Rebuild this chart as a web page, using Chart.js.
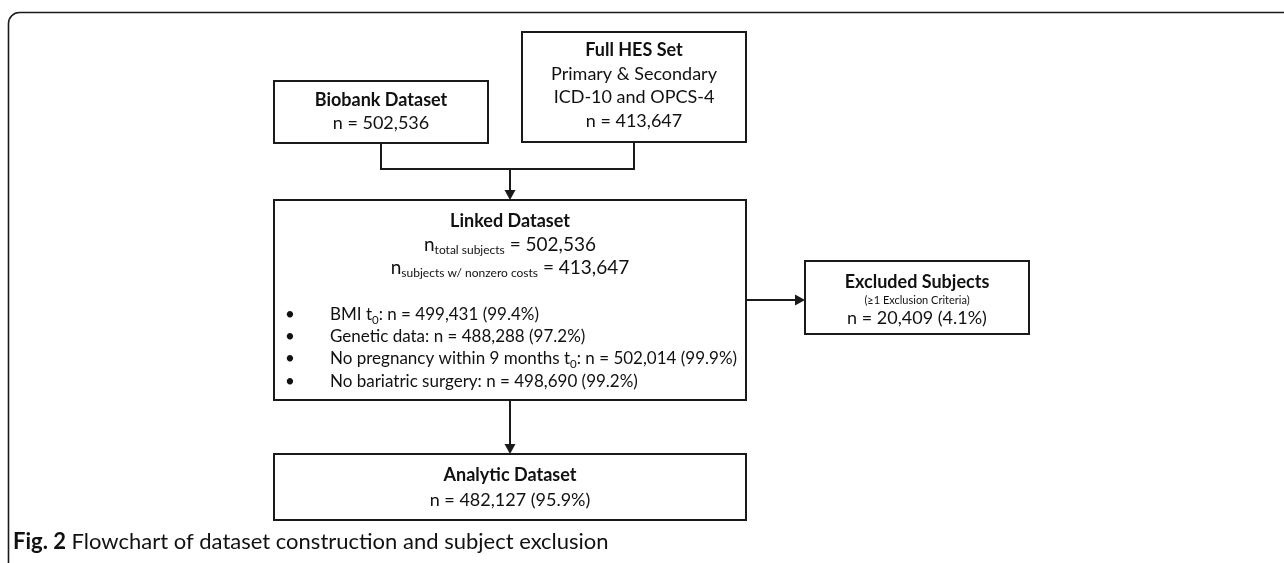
<!DOCTYPE html>
<html>
<head>
<meta charset="utf-8">
<script src="https://cdn.jsdelivr.net/npm/chart.js@4.4.1/dist/chart.umd.min.js"></script>
<style>
    html, body { margin: 0; padding: 0; background: #fff; }
    canvas { display: block; }
</style>
</head>
<body>
<canvas id="flow" width="1284" height="563"></canvas>
<script>
// counts
const nodeTitles = ['Biobank Dataset', 'Full HES Set', 'Linked Dataset', 'Excluded Subjects', 'Analytic Dataset'];
const nodeCounts = [502536, 413647, 502536, 20409, 482127];
const nodePercents = [null, null, null, 4.1, 95.9];
const hesSubtitle = ['Primary & Secondary', 'ICD-10 and OPCS-4'];
const nonzeroCostCount = 413647;
const criteriaLabels = [['BMI t', '0'], ['Genetic data'], ['No pregnancy within 9 months t', '0'], ['No bariatric surgery']];
const criteriaCounts = [499431, 488288, 502014, 498690];
const criteriaPercents = [99.4, 97.2, 99.9, 99.2];
const captionBold = 'Fig. 2';
const captionText = ' Flowchart of dataset construction and subject exclusion';

// layout in canvas units (x 0..1284, y 0..563)
const boxes = [
    {x1: 274, x2: 488, y1: 81, y2: 143},
    {x1: 522, x2: 746, y1: 32, y2: 142},
    {x1: 274, x2: 746, y1: 200, y2: 400},
    {x1: 805, x2: 1029, y1: 261, y2: 334},
    {x1: 274, x2: 746, y1: 454, y2: 520}
];

const FONT = 'Lato, "Open Sans", sans-serif';
const INK = '#1a1a1a';
const fmt = n => n.toLocaleString('en-US');

function seg(t, o = {}) { return Object.assign({t: t, size: 18, bold: false, sub: false}, o); }

function buildLines() {
    const L = [];
    L.push([{y: 100, s: [seg(nodeTitles[0], {bold: true})]},
            {y: 123, s: [seg('n = ' + fmt(nodeCounts[0]))]}]);
    L.push([{y: 50, s: [seg(nodeTitles[1], {bold: true})]},
            {y: 74, s: [seg(hesSubtitle[0])]},
            {y: 97, s: [seg(hesSubtitle[1])]},
            {y: 121, s: [seg('n = ' + fmt(nodeCounts[1]))]}]);
    L.push([{y: 221, s: [seg(nodeTitles[2], {bold: true})]},
            {y: 245, s: [seg('n', {size: 19}), seg('total subjects', {size: 12, sub: true}), seg(' = ' + fmt(nodeCounts[2]), {size: 19})]},
            {y: 268, s: [seg('n', {size: 19}), seg('subjects w/ nonzero costs', {size: 12, sub: true}), seg(' = ' + fmt(nonzeroCostCount), {size: 19})]}]);
    L.push([{y: 282, s: [seg(nodeTitles[3], {bold: true})]},
            {y: 300, s: [seg('(≥1 Exclusion Criteria)', {size: 11})]},
            {y: 318, s: [seg('n = ' + fmt(nodeCounts[3]) + ' (' + nodePercents[3] + '%)')]}]);
    L.push([{y: 475, s: [seg(nodeTitles[4], {bold: true})]},
            {y: 500, s: [seg('n = ' + fmt(nodeCounts[4]) + ' (' + nodePercents[4] + '%)')]}]);
    return L;
}

function bulletSegs(i) {
    const lab = criteriaLabels[i];
    const s = [seg(lab[0], {size: 17})];
    if (lab[1]) s.push(seg(lab[1], {size: 11.5, sub: true}));
    s.push(seg(': n = ' + fmt(criteriaCounts[i]) + ' (' + criteriaPercents[i] + '%)', {size: 17}));
    return s;
}

function font(s) { return (s.bold ? 'bold ' : '') + s.size + 'px ' + FONT; }

function drawSegs(ctx, segs, x, y, align) {
    let w = 0;
    segs.forEach(s => { ctx.font = font(s); w += ctx.measureText(s.t).width; });
    let cx = align === 'center' ? x - w / 2 : x;
    ctx.textAlign = 'left';
    ctx.textBaseline = 'middle';
    segs.forEach(s => {
        ctx.font = font(s);
        ctx.fillText(s.t, cx, s.sub ? y + 5 : y);
        cx += ctx.measureText(s.t).width;
    });
}

function arrowDown(ctx, x, y) {
    ctx.beginPath();
    ctx.moveTo(x - 5.5, y - 10);
    ctx.lineTo(x + 5.5, y - 10);
    ctx.lineTo(x, y);
    ctx.closePath();
    ctx.fill();
}

function arrowRight(ctx, x, y) {
    ctx.beginPath();
    ctx.moveTo(x - 10, y - 5.5);
    ctx.lineTo(x - 10, y + 5.5);
    ctx.lineTo(x, y);
    ctx.closePath();
    ctx.fill();
}

const flowPlugin = {
    id: 'flow',
    afterDraw(chart) {
        const ctx = chart.ctx;
        const sx = v => chart.scales.x.getPixelForValue(v);
        const sy = v => chart.scales.y.getPixelForValue(v);
        ctx.save();
        ctx.strokeStyle = INK;
        ctx.fillStyle = INK;

        // outer frame (top + left, rounded corner)
        ctx.lineWidth = 1.6;
        ctx.beginPath();
        ctx.moveTo(sx(8.5), sy(563));
        ctx.lineTo(sx(8.5), sy(24));
        ctx.arcTo(sx(8.5), sy(12.5), sx(20), sy(12.5), 11);
        ctx.lineTo(sx(1284), sy(12.5));
        ctx.stroke();

        // boxes
        ctx.lineWidth = 2;
        boxes.forEach(b => {
            ctx.strokeRect(sx(b.x1), sy(b.y1), sx(b.x2) - sx(b.x1), sy(b.y2) - sy(b.y1));
        });

        // connectors
        const bx = (boxes[0].x1 + boxes[0].x2) / 2;
        const hx = (boxes[1].x1 + boxes[1].x2) / 2;
        const mx = (boxes[2].x1 + boxes[2].x2) / 2;
        const joinY = 169;
        ctx.lineWidth = 2;
        ctx.beginPath();
        ctx.moveTo(sx(bx), sy(boxes[0].y2));
        ctx.lineTo(sx(bx), sy(joinY));
        ctx.lineTo(sx(hx), sy(joinY));
        ctx.lineTo(sx(hx), sy(boxes[1].y2));
        ctx.moveTo(sx(mx), sy(joinY));
        ctx.lineTo(sx(mx), sy(boxes[2].y1 - 6));
        ctx.moveTo(sx(mx), sy(boxes[2].y2));
        ctx.lineTo(sx(mx), sy(boxes[4].y1 - 6));
        const ay = 300;
        ctx.moveTo(sx(boxes[2].x2), sy(ay));
        ctx.lineTo(sx(boxes[3].x1 - 6), sy(ay));
        ctx.stroke();
        arrowDown(ctx, sx(mx), sy(boxes[2].y1));
        arrowDown(ctx, sx(mx), sy(boxes[4].y1));
        arrowRight(ctx, sx(boxes[3].x1), sy(ay));

        // box text
        ctx.fillStyle = '#111';
        buildLines().forEach((lines, i) => {
            const b = boxes[i];
            const cx = sx((b.x1 + b.x2) / 2);
            lines.forEach(l => drawSegs(ctx, l.s, cx, sy(l.y), 'center'));
        });

        // bullet list in linked box
        const bulletY = [315, 337, 359, 382];
        criteriaLabels.forEach((_, i) => {
            ctx.font = '17px ' + FONT;
            ctx.textAlign = 'center';
            ctx.textBaseline = 'middle';
            ctx.fillText('•', sx(290), sy(bulletY[i]));
            drawSegs(ctx, bulletSegs(i), sx(330), sy(bulletY[i]), 'left');
        });

        // caption
        drawSegs(ctx, [seg(captionBold, {bold: true, size: 22}), seg(captionText, {size: 22})], sx(13), sy(542), 'left');
        ctx.restore();
    }
};

new Chart(document.getElementById('flow'), {
    type: 'scatter',
    data: {datasets: [{data: [], pointRadius: 0}]},
    options: {
        responsive: false,
        animation: false,
        events: [],
        layout: {padding: 0},
        scales: {
            x: {type: 'linear', min: 0, max: 1284, display: false},
            y: {type: 'linear', min: 0, max: 563, reverse: true, display: false}
        },
        plugins: {legend: {display: false}, tooltip: {enabled: false}, title: {display: false}}
    },
    plugins: [flowPlugin]
});
</script>
</body>
</html>
